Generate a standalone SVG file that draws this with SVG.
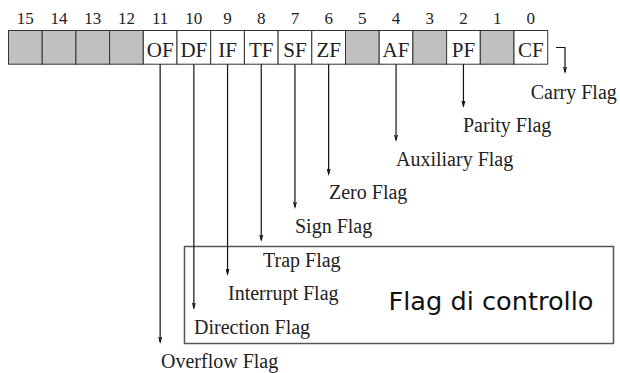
<svg xmlns="http://www.w3.org/2000/svg" width="620" height="373" viewBox="0 0 620 373">
<defs>
<style>
.num{font-family:"Liberation Serif","Times New Roman",serif;font-size:17px;fill:#222;text-anchor:middle}
.cell{font-family:"Liberation Serif","Times New Roman",serif;font-size:21px;fill:#222;text-anchor:middle}
.lbl{font-family:"Liberation Serif","Times New Roman",serif;font-size:20px;fill:#222}
.big{font-family:"DejaVu Sans","Verdana",sans-serif;font-size:25.5px;fill:#111}
.g{fill:#c0c0c0;stroke:#333;stroke-width:1}
.w{fill:#fff;stroke:#333;stroke-width:1}
.arr{fill:none;stroke:#111;stroke-width:1.2;marker-end:url(#ah)}
</style>
<marker id="ah" markerUnits="userSpaceOnUse" markerWidth="10" markerHeight="14" viewBox="-5 -12 10 14" refX="0" refY="0" orient="auto-start-reverse">
<path d="M-3,-11 L0,0 L3,-11" transform="rotate(-90)" fill="none" stroke="#111" stroke-width="1.1"/>
</marker>
</defs>
<g id="bit-numbers">
<text class="num" x="25.35" y="23.5">15</text>
<text class="num" x="59.05" y="23.5">14</text>
<text class="num" x="92.75" y="23.5">13</text>
<text class="num" x="126.45" y="23.5">12</text>
<text class="num" x="160.15" y="23.5">11</text>
<text class="num" x="193.85" y="23.5">10</text>
<text class="num" x="227.55" y="23.5">9</text>
<text class="num" x="261.25" y="23.5">8</text>
<text class="num" x="294.95" y="23.5">7</text>
<text class="num" x="328.65" y="23.5">6</text>
<text class="num" x="362.35" y="23.5">5</text>
<text class="num" x="396.05" y="23.5">4</text>
<text class="num" x="429.75" y="23.5">3</text>
<text class="num" x="463.45" y="23.5">2</text>
<text class="num" x="497.15" y="23.5">1</text>
<text class="num" x="530.85" y="23.5">0</text>
</g>
<g id="register">
<rect class="g" x="8.5" y="30.5" width="33.7" height="33.7"/>
<rect class="g" x="42.2" y="30.5" width="33.7" height="33.7"/>
<rect class="g" x="75.9" y="30.5" width="33.7" height="33.7"/>
<rect class="g" x="109.6" y="30.5" width="33.7" height="33.7"/>
<rect class="w" x="143.3" y="30.5" width="33.7" height="33.7"/>
<rect class="w" x="177" y="30.5" width="33.7" height="33.7"/>
<rect class="w" x="210.7" y="30.5" width="33.7" height="33.7"/>
<rect class="w" x="244.4" y="30.5" width="33.7" height="33.7"/>
<rect class="w" x="278.1" y="30.5" width="33.7" height="33.7"/>
<rect class="w" x="311.8" y="30.5" width="33.7" height="33.7"/>
<rect class="g" x="345.5" y="30.5" width="33.7" height="33.7"/>
<rect class="w" x="379.2" y="30.5" width="33.7" height="33.7"/>
<rect class="g" x="412.9" y="30.5" width="33.7" height="33.7"/>
<rect class="w" x="446.6" y="30.5" width="33.7" height="33.7"/>
<rect class="g" x="480.3" y="30.5" width="33.7" height="33.7"/>
<rect class="w" x="514" y="30.5" width="33.7" height="33.7"/>
<text class="cell" x="160.15" y="56.5">OF</text>
<text class="cell" x="193.85" y="56.5">DF</text>
<text class="cell" x="227.55" y="56.5">IF</text>
<text class="cell" x="261.25" y="56.5">TF</text>
<text class="cell" x="294.95" y="56.5">SF</text>
<text class="cell" x="328.65" y="56.5">ZF</text>
<text class="cell" x="396.05" y="56.5">AF</text>
<text class="cell" x="463.45" y="56.5">PF</text>
<text class="cell" x="530.85" y="56.5">CF</text>
</g>
<g id="control-box">
<rect x="184.5" y="246.5" width="429" height="97" fill="none" stroke="#555" stroke-width="1.5"/>
<text class="big" x="388.5" y="310" textLength="205" lengthAdjust="spacingAndGlyphs">Flag di controllo</text>
</g>
<g id="connectors">
<path class="arr" d="M160.15,64.2 V342"/>
<path class="arr" d="M193.85,64.2 V308"/>
<path class="arr" d="M227.55,64.2 V274"/>
<path class="arr" d="M261.25,64.2 V240"/>
<path class="arr" d="M294.95,64.2 V207"/>
<path class="arr" d="M328.65,64.2 V174"/>
<path class="arr" d="M396.05,64.2 V140"/>
<path class="arr" d="M463.45,64.2 V106"/>
<path class="arr" d="M556,47.5 H565 V72"/>
</g>
<g id="labels">
<text class="lbl" x="530.7" y="98.5">Carry Flag</text>
<text class="lbl" x="463" y="132">Parity Flag</text>
<text class="lbl" x="396" y="165.5">Auxiliary Flag</text>
<text class="lbl" x="329" y="199">Zero Flag</text>
<text class="lbl" x="295" y="233">Sign Flag</text>
<text class="lbl" x="263" y="266.5">Trap Flag</text>
<text class="lbl" x="228" y="300">Interrupt Flag</text>
<text class="lbl" x="194" y="334">Direction Flag</text>
<text class="lbl" x="161" y="368">Overflow Flag</text>
</g>
</svg>
